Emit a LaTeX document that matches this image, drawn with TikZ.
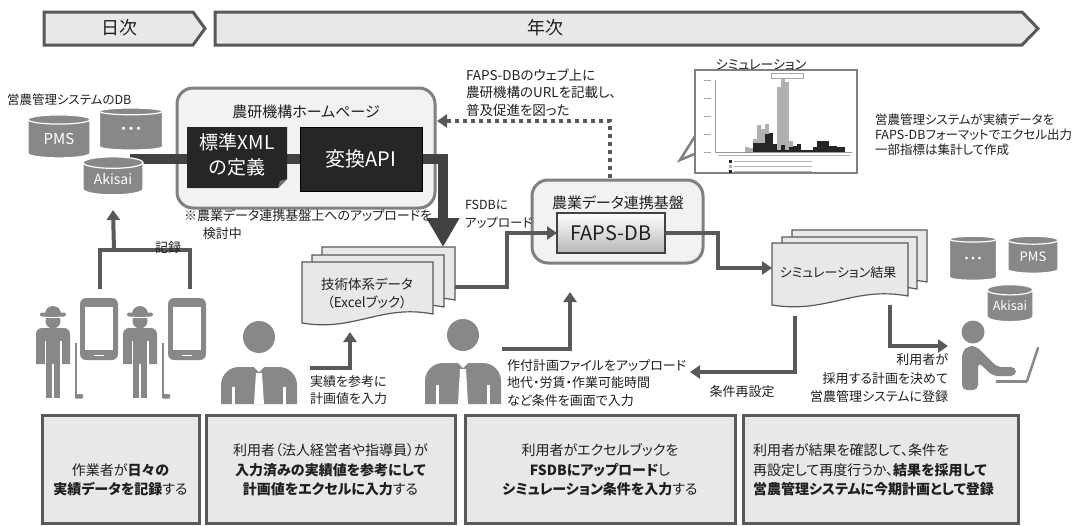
\documentclass[tikz,border=0pt]{standalone}
\usepackage{fontspec}
\setmainfont{Noto Sans CJK JP}[RawFeature={+palt}]
\usetikzlibrary{arrows.meta,shapes.geometric,calc}

\definecolor{ink}{HTML}{595959}
\definecolor{deep}{HTML}{424242}
\definecolor{panel}{HTML}{E8E8E8}
\definecolor{frame}{HTML}{808080}
\definecolor{soft}{HTML}{F2F2F2}
\definecolor{icon}{HTML}{888888}
\definecolor{dark}{HTML}{262626}
\definecolor{txt}{HTML}{1F1F1F}
\definecolor{barlight}{HTML}{B0B0B0}
\definecolor{bardark}{HTML}{262626}

\newcommand\fs[2]{\fontsize{#1}{#2}\selectfont}

% one sheet of a document stack, wavy lower edge
\newcommand\docsheet[4]{%
  \filldraw[sheet] (#1,#2) -- (#3,#2) -- (#3,{#4-9})
    .. controls ({#3-0.4*(#3-#1)},{#4-19}) and ({#1+0.4*(#3-#1)},{#4+9}) .. (#1,#4) -- cycle;}

% office worker icon: centre x, head centre y, shoulder offset
\newcommand\officer[3]{%
  \fill[icon] (#1,#2) circle (16);
  \fill[icon] ({#1-38},404) -- ({#1-38},{#2+#3+18})
    arc[start angle=180,end angle=270,radius=18] -- ({#1+20},{#2+#3})
    arc[start angle=270,end angle=360,radius=18] -- ({#1+38},404) -- cycle;
  \fill[white] ({#1-27},{#2+50}) rectangle ({#1-24},404);
  \fill[white] ({#1+24},{#2+50}) rectangle ({#1+27},404);
  \fill[white] (#1,{#2+#3-6}) -- ({#1+5},{#2+#3}) -- (#1,{#2+#3+5}) -- ({#1-5},{#2+#3}) -- cycle;
  \fill[white] ({#1-3},{#2+#3+6}) -- ({#1+3},{#2+#3+6}) -- ({#1+5},404) -- ({#1-5},404) -- cycle;}

% field worker icon with a hoe: centre x
\newcommand\farmer[1]{%
  \fill[icon] (#1,321) circle (7.5);
  \fill[white] ({#1-13},316.5) rectangle ({#1+13},318);
  \fill[icon] ({#1-8},314) arc[start angle=180,end angle=360,radius=8] -- cycle;
  \fill[icon, rounded corners=2pt] ({#1-13},312.5) rectangle ({#1+13},316.5);
  \fill[icon] ({#1-17},364) -- ({#1-17},{334})
    arc[start angle=180,end angle=270,radius=6] -- ({#1+11},328)
    arc[start angle=270,end angle=360,radius=6] -- ({#1+17},364) -- cycle;
  \fill[white] ({#1-8.5},341) rectangle ({#1-7},364);
  \fill[white] ({#1+7},341) rectangle ({#1+8.5},364);
  \fill[icon] ({#1-7},363) rectangle ({#1-0.8},398);
  \fill[icon] ({#1+0.8},363) rectangle ({#1+7},398);
  \fill[icon] ({#1+22},343) rectangle ({#1+24},397);
  \fill[icon, rounded corners=1pt] ({#1+22},394) rectangle ({#1+30},398.5);}

% handheld terminal icon: left x, top y
\newcommand\handheld[2]{%
  \fill[icon, rounded corners=6pt] (#1,#2) rectangle ({#1+38},{#2+62});
  \fill[white] ({#1+5},{#2+9}) rectangle ({#1+33},{#2+52});
  \fill[white] ({#1+14},{#2+56.5}) rectangle ({#1+24},{#2+58});}

\begin{document}
\begin{tikzpicture}[x=1pt,y=-1pt,
  every node/.style={inner sep=0pt, outer sep=0pt, text=txt, font=\fs{13}{17.5}},
  chevron/.style={draw=ink, line width=3pt, fill=panel},
  framebox/.style={draw=frame, line width=3pt, fill=soft, rounded corners=16pt},
  darkbox/.style={fill=dark, draw=black, line width=0.6pt, text=white, align=center},
  fapsbox/.style={draw=deep, line width=1.2pt, top color=white, bottom color=black!28, font=\fs{20}{22}},
  stepbox/.style={draw=ink, line width=3pt, fill=panel},
  db/.style={cylinder, shape border rotate=90, aspect=0.3, draw=white, line width=1.2pt,
    fill=icon, text=white},
  flow/.style={draw=ink, line width=4pt, -{Triangle[length=10pt,width=13pt]}},
  flowplain/.style={draw=ink, line width=4pt},
  band/.style={draw=deep, line width=10pt, -{Triangle[length=29pt,width=31pt]}},
  dotflow/.style={draw=ink, line width=4pt, dash pattern=on 4pt off 4pt,
    -{Triangle[length=10pt,width=13pt]}},
  sheet/.style={draw=ink, line width=1.2pt, fill=panel},
]
\useasboundingbox (0,0) rectangle (1086,525);

% ---- time line ----
\draw[chevron] (44,12) -- (193,12) -- (205,28.5) -- (193,45) -- (44,45) -- cycle;
\node[font=\fs{18}{20}] (daily) at (119,28) {日次};
\draw[chevron] (215,12) -- (1022,12) -- (1038,28.5) -- (1022,45) -- (215,45) -- cycle;
\node[font=\fs{18}{20}] (yearly) at (545,28) {年次};

% ---- farm management databases ----
\node[anchor=west, font=\fs{12.5}{15}] (dblabel) at (7,100) {営農管理システムのDB};

% NARO web page frame
\node[framebox, minimum width=258pt, minimum height=120pt, anchor=north west] (hp) at (177,88) {};
\node[font=\fs{15}{17}] (hptitle) at (306,112) {農研機構ホームページ};

% conversion path down to the workbook
\coordinate (dbout) at (130,159);
\coordinate (bandturn) at (443,159);
\coordinate (techtop) at (443,247);
\draw[band] (dbout) -- (bandturn) -- (techtop);

\node[db, minimum width=62pt, minimum height=43pt, font=\fs{15}{17}] (pms) at (59,139) {PMS};
\node[db, minimum width=63pt, minimum height=42pt, font=\fs{15}{17}] (dots) at (131,131) {・・・};
\node[db, minimum width=60pt, minimum height=38pt, font=\fs{14}{16}] (akisai) at (113,179) {Akisai};

% standard XML definition (dog-eared sheet) and conversion API
\fill[dark] (187,127) -- (287,127) -- (287,179) -- (278,188) -- (187,188) -- cycle;
\fill[black!55] (278,188) -- (280,181) -- (287,179) -- cycle;
\node[text=white, font=\fs{19}{25}, align=center] (xml) at (237,155) {標準XML\\の定義};
\node[darkbox, minimum width=122pt, minimum height=64pt, anchor=north west, font=\fs{20}{22}] (api) at (300,127) {変換API};

\node[anchor=north west, align=left, font=\fs{13}{18}] (note) at (184,209)
  {※農業データ連携基盤上へのアップロードを\\\hspace*{1.45em}検討中};

% ---- data platform ----
\node[framebox, minimum width=171pt, minimum height=83pt, anchor=north west] (hub) at (532,180) {};
\node[font=\fs{15}{17}] (hubtitle) at (618,203) {農業データ連携基盤};
\node[fapsbox, minimum width=108pt, minimum height=40pt, anchor=north west] (faps) at (557,213) {FAPS-DB};

\coordinate (dotbase) at (610,178);
\coordinate (hpport) at (437,121);
\draw[dotflow] (dotbase) |- (hpport);
\node[anchor=west, align=left, font=\fs{13.5}{17.5}] (webnote) at (466,92.5)
  {FAPS-DBのウェブ上に\\農研機構のURLを記載し、\\普及促進を図った};
\node[anchor=west, align=left, font=\fs{12.5}{18}] (upnote) at (465,214) {FSDBに\\アップロード};

% ---- technology workbook stack ----
\docsheet{322}{247}{455}{309}
\docsheet{312}{255}{444}{316}
\docsheet{302}{262}{433}{323}
\node[align=center, font=\fs{13.5}{18}] (tech) at (367,293) {技術体系データ\\（Excelブック）};

\coordinate (techout) at (455,287);
\draw[flow] (techout) -- (507,287) |- (faps.west);

% ---- simulation result stack ----
\docsheet{792}{230}{927}{291}
\docsheet{782}{237}{917}{298}
\docsheet{772}{243}{908}{305}
\node[font=\fs{13}{16}] (simres) at (838,273) {シミュレーション結果};

\coordinate (simin) at (772,268);
\draw[flow] (faps.east) -- (718,233) |- (simin);

% ---- simulation chart callout ----
\filldraw[fill=white, draw=frame, line width=2.5pt, line join=miter] (697,133) -- (680,160) -- (697,153);
\filldraw[fill=white, draw=frame, line width=2.5pt] (695,70) rectangle (857,173);
\node[font=\fs{13}{15}] (simlabel) at (761,65) {シミュレーション};
\draw[black!35, line width=0.4pt] (771,73) rectangle (803,78);
\draw[black!40, line width=0.4pt] (715,80) -- (715,152) -- (852,152);
\foreach \yy in {80,98,116,134,152} \draw[black!35, line width=0.8pt] (704,\yy) -- (711,\yy);
\foreach \i/\g/\b in {0/5/0,1/4/0,2/13/9,3/27/9,4/23/9,5/28/18,6/12/19,7/8/8,8/65/2,9/73/7,
    10/70/2,11/11/5,12/6/6,13/8/8,14/0/2,15/0/2,16/0/2,17/0/5,18/0/11,19/0/11,20/0/11,
    21/0/6,22/0/6,23/0/5,24/0/5}{%
  \fill[barlight] ({745+4.0*\i},152) rectangle ++(3.6,-\g);
  \fill[bardark] ({745+4.0*\i},152) rectangle ++(3.6,-\b);}
\draw[black!30, line width=0.8pt] (718,155) -- (850,155);
\foreach \yy/\cc in {161/bardark,166/barlight,171/bardark}{%
  \fill[\cc] (729,{\yy-1.5}) rectangle (732,{\yy+1.5});
  \draw[black!30, line width=1pt] (734,\yy) -- (812,\yy);}

\node[anchor=west, align=left, font=\fs{12.5}{15}] (exportnote) at (875,135)
  {営農管理システムが実績データを\\FAPS-DBフォーマットでエクセル出力\\一部指標は集計して作成};

% ---- right-hand databases and planner at desk ----
\node[db, minimum width=47pt, minimum height=44pt, font=\fs{13}{15}] (dots2) at (973,260) {・・・};
\node[db, minimum width=50pt, minimum height=37pt, font=\fs{13}{15}] (pms2) at (1033,257) {PMS};
\node[db, minimum width=46pt, minimum height=37pt, font=\fs{12.5}{15}] (akisai2) at (1010,306) {Akisai};

\fill[icon] (973,332) circle (11.5);
\fill[icon, rounded corners=5pt] (962,390) -- (962,352) -- (968,346) -- (976,346) -- (997,367)
  -- (1016,367) -- (1016,376) -- (993,376) -- (978,362) -- (978,390) -- cycle;
\draw[icon, line width=3pt] (996,381) -- (1027,381);
\draw[icon, line width=2.5pt, line cap=round] (1027,381) -- (1038,348);

\coordinate (simout) at (890,305);
\coordinate (deskin) at (948,346);
\draw[flow] (simout) |- (deskin);
\node[anchor=east, align=right, font=\fs{13}{18.5}] (adoptnote) at (948,378.5)
  {利用者が\\採用する計画を決めて\\営農管理システムに登録};

\coordinate (simback) at (795,316);
\coordinate (resetend) at (690,372);
\draw[flow] (simback) |- (resetend);
\node (reset) at (742,392) {条件再設定};

% ---- planners ----
\officer{259}{337}{30}
\officer{463}{335}{28}

\coordinate (p1out) at (310,368);
\coordinate (techin) at (350,332);
\draw[flow] (p1out) -| (techin);
\node[anchor=west, align=left, font=\fs{13}{16.5}] (refnote) at (310,390) {実績を参考に\\計画値を入力};

\coordinate (p2out) at (502,349);
\coordinate (hubin) at (570,292);
\draw[flow] (p2out) -| (hubin);
\node[anchor=west, align=left, font=\fs{13}{17.5}] (condnote) at (507,383)
  {作付計画ファイルをアップロード\\地代・労賃・作業可能時間\\など条件を画面で入力};

% ---- field workers recording ----
\farmer{53}
\farmer{140}
\handheld{80}{298}
\handheld{168}{298}
\coordinate (rec1) at (100,289);
\coordinate (rec2) at (190,289);
\coordinate (recjoin) at (114,250);
\draw[flowplain] (rec1) |- (rec2 |- recjoin) -- (rec2);
\draw[flow] (recjoin) -- (akisai.south |- 0,210);
\node (recnote) at (168,248) {記録};

% ---- step descriptions ----
\node[stepbox, minimum width=157pt, minimum height=108pt, anchor=north west] (s1) at (42,415) {};
\node[stepbox, minimum width=249pt, minimum height=108pt, anchor=north west] (s2) at (206,415) {};
\node[stepbox, minimum width=270pt, minimum height=108pt, anchor=north west] (s3) at (465,415) {};
\node[stepbox, minimum width=275pt, minimum height=108pt, anchor=north west] (s4) at (743,415) {};

\node[align=center, font=\fs{14}{19.5}] (t1) at ($(s1.center)+(0,11)$)
  {作業者が\textbf{日々の}\\\textbf{実績データを記録}する};
\node[align=center, font=\fs{14}{19.5}] (t2) at ($(s2.center)+(0,1)$)
  {利用者（法人経営者や指導員）が\\\textbf{入力済みの実績値を参考にして}\\\textbf{計画値をエクセルに入力}する};
\node[align=center, font=\fs{14}{19.5}] (t3) at ($(s3.center)+(0,1)$)
  {利用者がエクセルブックを\\\textbf{FSDBにアップロード}し\\\textbf{シミュレーション条件を入力}する};
\node[anchor=west, align=left, font=\fs{14}{19.5}] (t4) at ($(s4.west)+(10,1)$)
  {利用者が結果を確認して、条件を\\再設定して再度行うか、\textbf{結果を採用して}\\\textbf{営農管理システムに今期計画として登録}};
\end{tikzpicture}
\end{document}
